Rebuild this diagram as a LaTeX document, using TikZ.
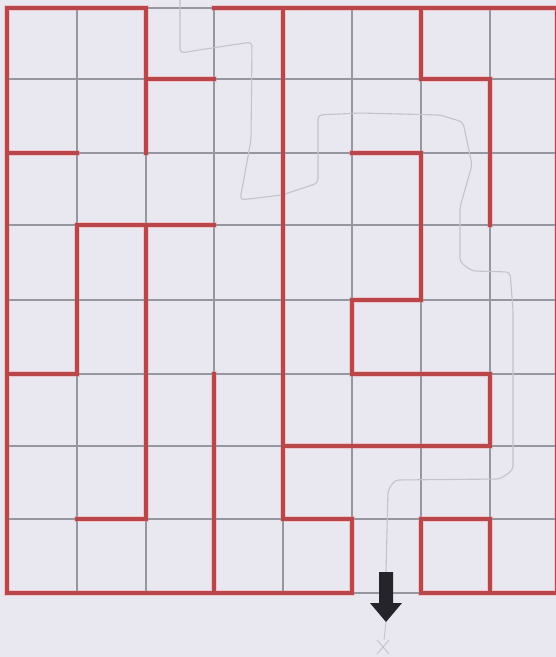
\documentclass[tikz,border=0pt]{standalone}
\newcommand\mazewalls[1]{%
\path[#1] (p20) -- (p00) -- (p08) -- (p58);
\path[#1] (p30) -- (p80) -- (p88) -- (p68);
\path[#1] (p20) -- (p22);
\path[#1] (p21) -- (p31);
\path[#1] (p02) -- (p12);
\path[#1] (p33) -- (p13) -- (p15) -- (p05);
\path[#1] (p23) -- (p27) -- (p17);
\path[#1] (p35) -- (p38);
\path[#1] (p40) -- (p47) -- (p57) -- (p58);
\path[#1] (p60) -- (p61) -- (p71) -- (p73);
\path[#1] (p52) -- (p62) -- (p64) -- (p54) -- (p55) -- (p75) -- (p76) -- (p46);
\path[#1] (p68) -- (p67) -- (p77) -- (p78);
}
\begin{document}
\begin{tikzpicture}[x=1pt,y=-1pt]
\definecolor{paper}{RGB}{233,231,239}
\definecolor{gridgray}{RGB}{150,150,160}
\definecolor{wallred}{RGB}{185,70,72}
\definecolor{halo}{RGB}{240,196,200}
\definecolor{pencil}{RGB}{195,195,205}
\definecolor{arrowblk}{RGB}{36,36,42}
\tikzset{
  gridline/.style={draw=gridgray,line width=1.8},
  wallhalo/.style={draw=halo,line width=6.5,line cap=rect,line join=miter},
  wall/.style={draw=wallred,line width=3.4,line cap=rect,line join=miter},
  pencilline/.style={draw=pencil,line width=1.1,line join=round,rounded corners=4pt}
}
\fill[paper] (0,0) rectangle (556,657);
\useasboundingbox (0,0) rectangle (556,657);
\begin{scope}
\clip (0,0) rectangle (556,657);
% lattice points
\foreach \i/\xx in {0/7,1/77,2/146,3/214,4/283,5/352,6/421,7/490,8/557}{
  \foreach \j/\yy in {0/8,1/79,2/153,3/225,4/300,5/374,6/446,7/519,8/593}{
    \coordinate (p\i\j) at (\xx,\yy);
  }
}
% halos under walls
\mazewalls{wallhalo}
% grid
\foreach \i in {0,...,8}{ \path[gridline] (p\i0) -- (p\i8); }
\foreach \j in {0,...,8}{ \path[gridline] (p0\j) -- (p8\j); }
% pencil solution path
\path[pencilline] (180,0) -- (180,53) -- (212,48) -- (252,42) -- (251,140) -- (240,200)
  -- (282,195) -- (318,183) -- (318,115) -- (360,113) -- (440,115) -- (463,122)
  -- (472,165) -- (460,207) -- (460,262) -- (472,271) -- (510,272) -- (513,310)
  -- (513,470) -- (500,479) -- (395,480) -- (388,490) -- (386,572);
\path[draw=pencil,line width=0.9] (386,622) -- (384,640);
\path[draw=pencil,line width=0.9] (377,640) -- (389,654) (389,640) -- (377,654);
% walls
\mazewalls{wall}
% exit arrow
\fill[arrowblk] (379,572) -- (393,572) -- (393,603) -- (402,603) -- (386,622)
  -- (370,603) -- (379,603) -- cycle;
\end{scope}
\end{tikzpicture}
\end{document}
